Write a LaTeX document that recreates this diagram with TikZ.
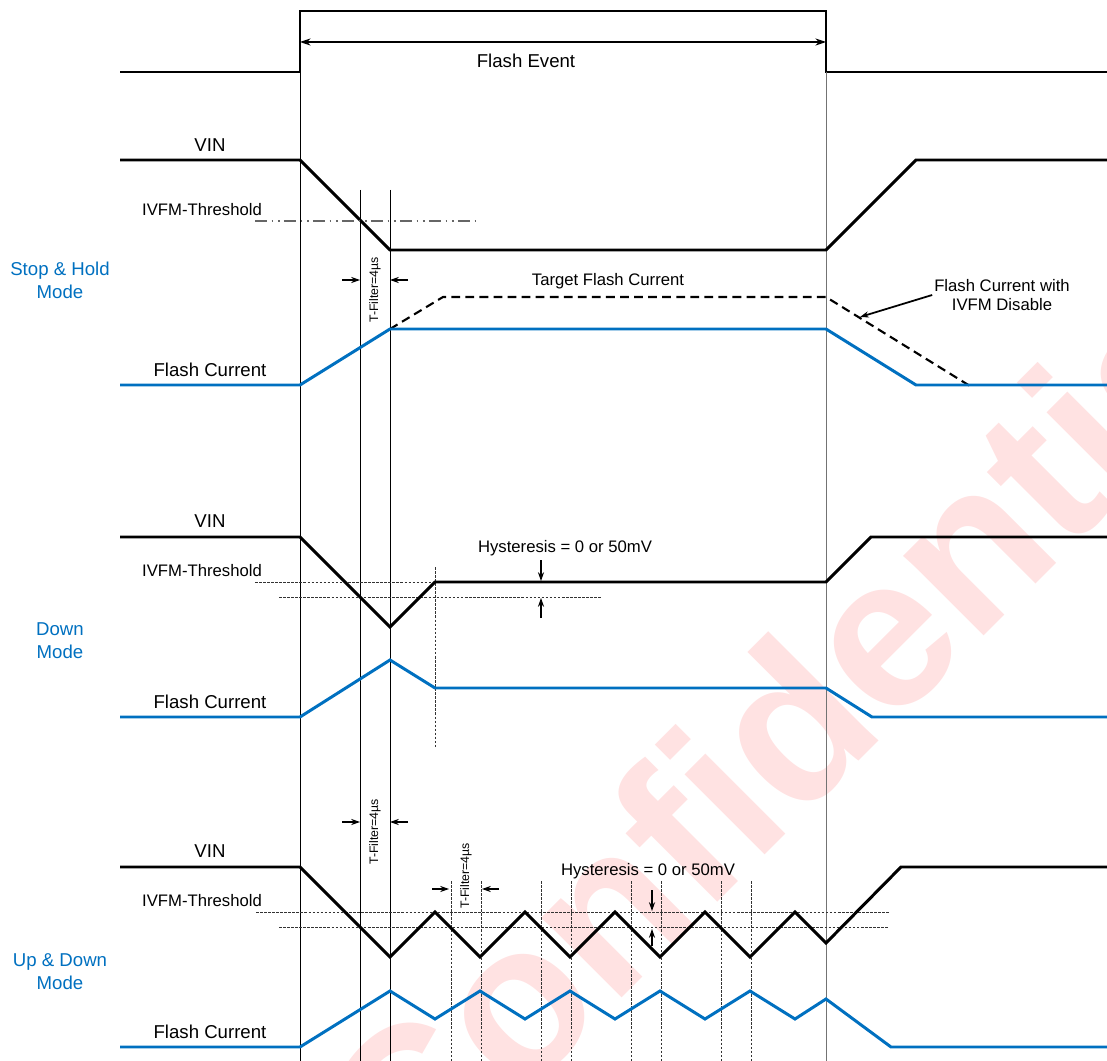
\documentclass[tikz,border=0pt]{standalone}
\usepackage{fontspec}
\setmainfont{Liberation Sans}
\usepackage{tikz}
\usetikzlibrary{arrows.meta}

\definecolor{curblue}{RGB}{0,112,192}
\definecolor{wmark}{RGB}{255,226,226}

\begin{document}
\begin{tikzpicture}[x=0.02cm, y=-0.02cm,
  sig/.style={line width=1.7pt},
  cur/.style={line width=1.7pt, draw=curblue},
  grid/.style={line width=0.5pt},
  thr/.style={line width=0.45pt, black!80, dash pattern=on 1.5pt off 0.8pt},
  lbl/.style={font=\fontsize{10.6}{12}\selectfont},
  sml/.style={font=\fontsize{9.5}{11}\selectfont},
  tfl/.style={font=\fontsize{7}{8}\selectfont, rotate=90, inner sep=0pt},
  mode/.style={font=\fontsize{10.6}{13}\selectfont, text=curblue, align=center},
  tip/.style={-{Stealth[length=5pt,width=3.5pt]}, line width=0.6pt}]
  \useasboundingbox (0,0) rectangle (1107,1061);

  % Watermark
  \node[anchor=base, rotate=45, text=wmark,
    font=\fontsize{122}{122}\selectfont\bfseries] (wm) at (847,773) {Confidential};

  % Flash event
  \draw[sig] (120,72) -- (300,72) -- (300,11) -- (826,11) -- (826,72) -- (1107,72);
  \coordinate (evL) at (300,42);
  \coordinate (evR) at (826,42);
  \draw[{Stealth[length=6pt,width=4pt]}-{Stealth[length=6pt,width=4pt]}, line width=0.6pt]
    (evL) -- (evR);
  \node[lbl] (event) at (526,61) {Flash Event};

  % Time markers
  \draw[grid] (300,72) -- (300,1061);
  \draw[grid, black!55] (826,72) -- (826,1061);
  \draw[grid] (360,190) -- (360,1061);
  \draw[grid] (390,190) -- (390,1061);

  % Stop & Hold mode
  \node[mode] (shMode) at (60,280) {Stop \& Hold\\Mode};
  \node[lbl] (vin1) at (210,145) {VIN};
  \draw[sig] (120,160) -- (300,160) -- (390,250) -- (826,250) -- (916,160) -- (1107,160);
  \node[sml] (thr1) at (202,210) {IVFM-Threshold};
  \draw[black!60, line width=1pt,
    dash pattern=on 7pt off 2.5pt on 1pt off 2.5pt on 1pt off 2.5pt] (255,221) -- (475,221);
  \node[tfl] (tf1) at (375,290) {T-Filter=4µs};
  \coordinate (tf1a) at (342,280);
  \coordinate (tf1b) at (408,280);
  \draw[tip] (tf1a) -- (360,280);
  \draw[tip] (tf1b) -- (390,280);
  \draw[line width=1.2pt, dash pattern=on 5pt off 3pt]
    (390,329) -- (443,297) -- (826,297) -- (970,386);
  \node[sml] (target) at (608,281) {Target Flash Current};
  \node[lbl] (fc1) at (210,370) {Flash Current};
  \draw[cur] (120,385) -- (300,385) -- (390,329) -- (826,329) -- (916,385) -- (1107,385);
  \node[sml, align=center, inner sep=1pt] (dis) at (1002,295) {Flash Current with\\IVFM Disable};
  \coordinate (disTip) at (860,317);
  \draw[tip, line width=1pt] (dis.west) -- (disTip);

  % Down mode
  \node[mode] (dnMode) at (60,641) {Down\\Mode};
  \node[lbl] (vin2) at (210,521) {VIN};
  \draw[thr] (255,582) -- (435,582);
  \draw[thr] (279,597) -- (601,597);
  \draw[thr] (435,567) -- (435,747);
  \draw[sig] (120,537) -- (300,537) -- (390,627) -- (435,582) -- (826,582) -- (871,537) -- (1107,537);
  \node[sml] (thr2) at (202,571) {IVFM-Threshold};
  \node[sml] (hys2) at (565,548) {Hysteresis = 0 or 50mV};
  \draw[tip] (541,560) -- (541,581);
  \draw[tip] (541,618) -- (541,598);
  \node[lbl] (fc2) at (210,702) {Flash Current};
  \draw[cur] (120,717) -- (300,717) -- (390,660) -- (435,688) -- (826,688) -- (872,717) -- (1107,717);

  % Up & Down mode
  \node[mode] (udMode) at (60,972) {Up \& Down\\Mode};
  \node[tfl] (tf2) at (375,832) {T-Filter=4µs};
  \draw[tip] (342,822) -- (360,822);
  \draw[tip] (408,822) -- (390,822);
  \node[lbl] (vin3) at (210,851) {VIN};
  \node[sml] (thr3) at (202,901) {IVFM-Threshold};
  \draw[thr] (256,912) -- (889,912);
  \draw[thr] (279,927) -- (889,927);
  \foreach \x in {451,481,541,571,631,661,721,751}
    \draw[thr] (\x,881) -- (\x,1061);
  \draw[sig] (120,867) -- (300,867) -- (390,957)
    \foreach \k in {0,...,3} { -- (435+90*\k,912) -- (480+90*\k,957) }
    -- (795,912) -- (826,943) -- (901,867) -- (1107,867);
  \node[tfl] (tf3) at (466,876) {T-Filter=4µs};
  \draw[tip] (432,889) -- (449,889);
  \draw[tip] (499,889) -- (482,889);
  \node[sml] (hys3) at (648,871) {Hysteresis = 0 or 50mV};
  \draw[tip] (652,890) -- (652,911);
  \draw[tip] (652,946) -- (652,929);
  \node[lbl] (fc3) at (210,1032) {Flash Current};
  \draw[cur] (120,1047) -- (300,1047) -- (390,991)
    \foreach \k in {0,...,3} { -- (435+90*\k,1019) -- (480+90*\k,991) }
    -- (795,1019) -- (826,999) -- (891,1047) -- (1107,1047);
\end{tikzpicture}
\end{document}
